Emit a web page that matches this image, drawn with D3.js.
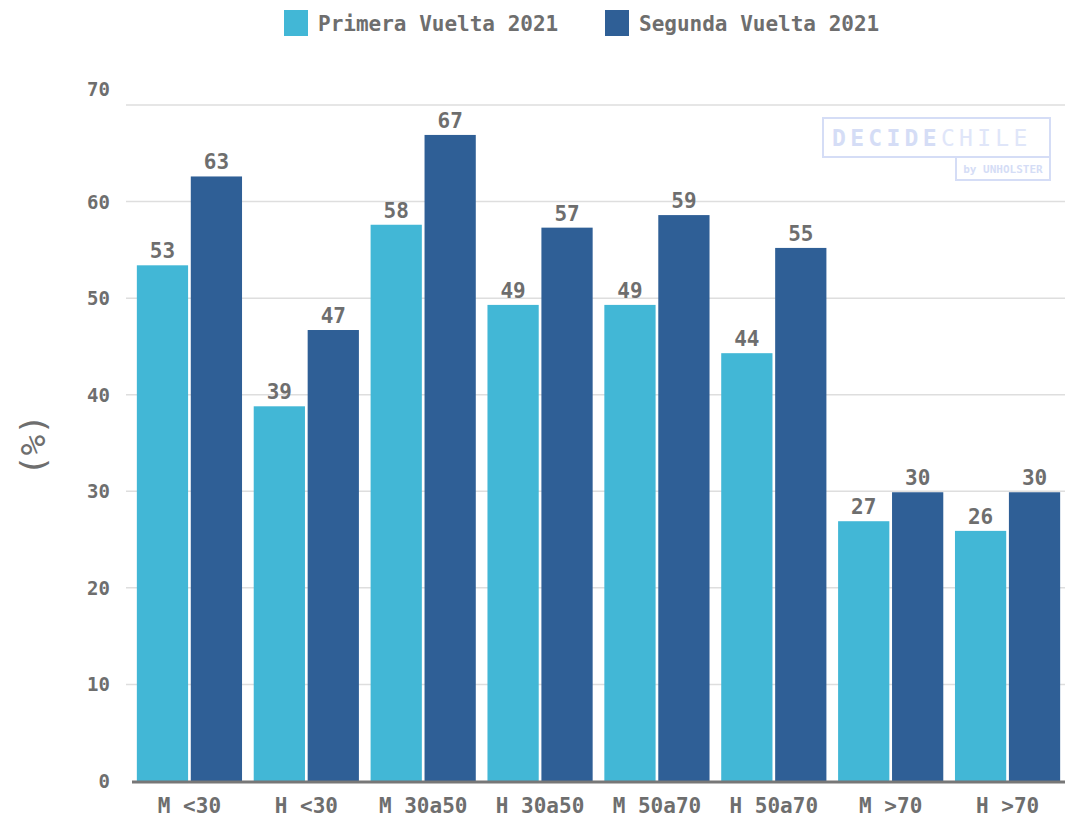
<!DOCTYPE html>
<html>
<head>
<meta charset="utf-8">
<script src="https://cdn.jsdelivr.net/npm/d3@7"></script>
<style>
  body { margin: 0; background: #fff; }
  svg { display: block; }
</style>
</head>
<body>
<div id="chart"></div>
<script>
// Data
const categories = ['M <30', 'H <30', 'M 30a50', 'H 30a50', 'M 50a70', 'H 50a70', 'M >70', 'H >70'];
const seriesNames = ['Primera Vuelta 2021', 'Segunda Vuelta 2021'];
const primera = [53.4, 38.8, 57.6, 49.3, 49.3, 44.3, 26.9, 25.9];
const segunda = [62.6, 46.7, 66.9, 57.3, 58.6, 55.2, 29.9, 29.9];
const yTicks = [0, 10, 20, 30, 40, 50, 60, 70];

const width = 1065;
const height = 817;
const colors = ['#42b7d6', '#2f5f96'];
const textColor = '#6e6e6e';
const font = '"DejaVu Sans Mono", monospace';

const svg = d3.select('#chart').append('svg')
  .attr('width', width)
  .attr('height', height);

const x = d3.scaleBand()
  .domain(categories)
  .range([131, 1066])
  .paddingInner(0.1)
  .paddingOuter(0.05);

const xSub = d3.scaleBand()
  .domain(seriesNames)
  .range([0, x.bandwidth()])
  .paddingInner(0.05);

const y = d3.scaleLinear()
  .domain([0, 70])
  .range([781, 105]);

// Grid lines
svg.append('g')
  .selectAll('line')
  .data(yTicks.filter(d => d > 0))
  .join('line')
  .attr('x1', 126)
  .attr('x2', width)
  .attr('y1', d => y(d))
  .attr('y2', d => y(d))
  .attr('stroke', '#dedede')
  .attr('stroke-width', 1.5);

// Y tick labels
svg.append('g')
  .selectAll('text')
  .data(yTicks)
  .join('text')
  .attr('x', 110)
  .attr('y', d => y(d) - (d === 70 ? 16 : 0))
  .attr('text-anchor', 'end')
  .attr('dominant-baseline', 'central')
  .attr('font-family', font)
  .attr('font-size', '19px')
  .attr('font-weight', 'bold')
  .attr('fill', textColor)
  .text(d => d);

// Y axis title
svg.append('text')
  .attr('transform', `translate(33, 445) rotate(-90)`)
  .attr('text-anchor', 'middle')
  .attr('dominant-baseline', 'central')
  .attr('font-family', font)
  .attr('font-size', '34px')
  .attr('fill', textColor)
  .text('(%)');

// Watermark
const wmColor = '#d5ddf6';
const wm = svg.append('g').attr('transform', 'translate(823, 118)');
wm.append('rect')
  .attr('x', 0).attr('y', 0).attr('width', 227).attr('height', 39)
  .attr('fill', 'none').attr('stroke', wmColor).attr('stroke-width', 2);
wm.append('rect')
  .attr('x', 133).attr('y', 39).attr('width', 94).attr('height', 23)
  .attr('fill', 'none').attr('stroke', wmColor).attr('stroke-width', 2);
const wmText = wm.append('text')
  .attr('x', 9).attr('y', 20)
  .attr('dominant-baseline', 'central')
  .attr('font-family', font)
  .attr('font-size', '23px')
  .attr('letter-spacing', '4.3px')
  .attr('fill', wmColor);
wmText.append('tspan').attr('font-weight', 'bold').text('DECIDE');
wmText.append('tspan').attr('font-weight', 'normal').attr('fill', '#e0e6f9').text('CHILE');
wm.append('text')
  .attr('x', 180).attr('y', 51)
  .attr('text-anchor', 'middle')
  .attr('dominant-baseline', 'central')
  .attr('font-family', font)
  .attr('font-size', '11px')
  .attr('font-weight', 'bold')
  .attr('fill', wmColor)
  .text('by UNHOLSTER');

// Bars
const rows = categories.map((c, i) => ({ cat: c, values: [primera[i], segunda[i]] }));

const groups = svg.append('g')
  .selectAll('g')
  .data(rows)
  .join('g')
  .attr('transform', d => `translate(${x(d.cat)}, 0)`);

groups.selectAll('rect')
  .data(d => d.values.map((v, j) => ({ key: seriesNames[j], v, j })))
  .join('rect')
  .attr('x', d => xSub(d.key))
  .attr('width', xSub.bandwidth())
  .attr('y', d => y(d.v))
  .attr('height', d => y(0) - y(d.v))
  .attr('fill', d => colors[d.j]);

groups.selectAll('text')
  .data(d => d.values.map((v, j) => ({ key: seriesNames[j], v, j })))
  .join('text')
  .attr('x', d => xSub(d.key) + xSub.bandwidth() / 2)
  .attr('y', d => y(d.v) - 7)
  .attr('text-anchor', 'middle')
  .attr('font-family', font)
  .attr('font-size', '21px')
  .attr('font-weight', 'bold')
  .attr('fill', textColor)
  .text(d => Math.round(d.v));

// Baseline
svg.append('line')
  .attr('x1', 132)
  .attr('x2', width)
  .attr('y1', y(0) + 1)
  .attr('y2', y(0) + 1)
  .attr('stroke', '#777')
  .attr('stroke-width', 3);

// X axis labels
svg.append('g')
  .selectAll('text')
  .data(categories)
  .join('text')
  .attr('x', d => x(d) + x.bandwidth() / 2)
  .attr('y', 806)
  .attr('text-anchor', 'middle')
  .attr('dominant-baseline', 'central')
  .attr('font-family', font)
  .attr('font-size', '21px')
  .attr('font-weight', 'bold')
  .attr('fill', textColor)
  .text(d => d);

// Legend
const legendItems = [
  { name: seriesNames[0], color: colors[0], x: 284 },
  { name: seriesNames[1], color: colors[1], x: 605 }
];
const legend = svg.append('g')
  .selectAll('g')
  .data(legendItems)
  .join('g')
  .attr('transform', d => `translate(${d.x}, 10)`);
legend.append('rect')
  .attr('width', 24)
  .attr('height', 26)
  .attr('fill', d => d.color);
legend.append('text')
  .attr('x', 34)
  .attr('y', 14)
  .attr('dominant-baseline', 'central')
  .attr('font-family', font)
  .attr('font-size', '21px')
  .attr('font-weight', 'bold')
  .attr('fill', textColor)
  .text(d => d.name);
</script>
</body>
</html>
